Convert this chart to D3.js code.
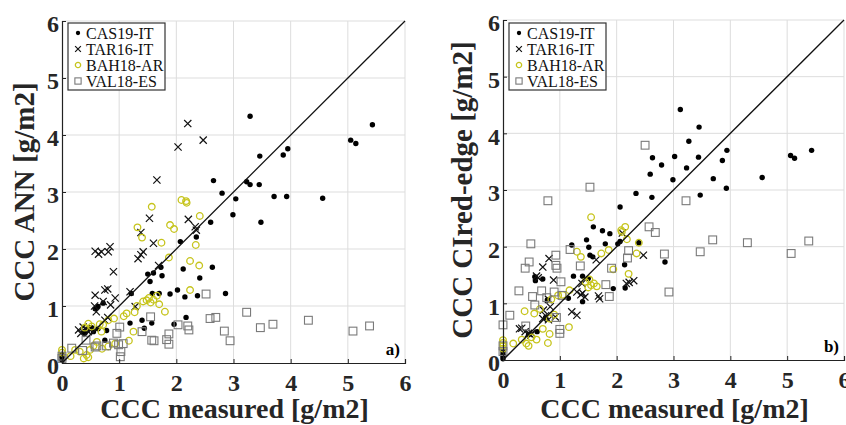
<!DOCTYPE html>
<html lang="en">
  <head>
    <meta charset="utf-8" />
    <title>CCC scatter plots</title>
    <script type="text/javascript" src="https://d3js.org/d3.v7.min.js"></script>
    <style>
      body { margin: 0; background: #fff; }
      text { font-family: "Liberation Serif", "Times New Roman", serif; }
    </style>
  </head>
  <body>
    <div id="graph"></div>

    <script type="text/javascript">
      /***************
       * data
       ***************/

      const ticks = [0, 1, 2, 3, 4, 5, 6];
      const seriesNames = ["CAS19-IT", "TAR16-IT", "BAH18-AR", "VAL18-ES"];
      const xLabel = "CCC measured [g/m2]";

      // panel a) : CCC ANN vs measured, [measured, estimated]
      const annCAS = [
        [3.29, 4.33], [5.43, 4.18], [5.05, 3.91], [5.14, 3.85], [3.95, 3.76], [3.87, 3.65],
        [3.46, 3.63], [2.65, 3.20], [3.23, 3.18], [3.29, 3.13], [3.45, 3.13], [2.80, 2.98],
        [3.04, 2.88], [3.71, 2.92], [3.93, 2.92], [4.56, 2.89], [2.99, 2.60], [3.48, 2.47],
        [2.60, 2.47], [2.35, 2.21], [2.07, 2.13], [2.12, 1.65], [2.63, 1.68], [2.41, 1.49],
        [1.50, 1.56], [1.60, 1.58], [1.75, 1.53], [1.73, 1.68], [1.54, 1.43], [1.70, 1.22],
        [1.58, 1.22], [1.89, 1.21], [2.02, 1.28], [2.15, 1.16], [2.37, 1.18], [2.86, 1.22],
        [1.21, 1.22], [1.40, 0.75], [1.57, 0.70], [1.44, 0.61], [1.19, 0.70], [2.17, 0.80],
        [1.96, 0.68], [0.78, 0.57], [0.75, 0.40], [0.58, 0.95], [0.63, 0.99], [0.72, 1.05],
        [0.45, 0.60], [0.52, 0.62], [0.38, 0.55], [0.55, 0.55], [0.63, 0.60], [0.40, 0.52],
        [0, 0.05], [0, 0.10], [0, 0.15]
      ];
      const annTAR = [
        [2.20, 4.20], [2.03, 3.79], [2.47, 3.91], [1.66, 3.21], [1.53, 2.54], [2.21, 2.52],
        [2.33, 2.39], [2.35, 2.33], [1.38, 2.29], [1.60, 2.10], [1.42, 1.95], [1.33, 1.83],
        [1.38, 1.90], [1.69, 1.71], [0.58, 1.96], [0.64, 1.91], [0.69, 1.95], [0.84, 2.04],
        [0.81, 1.95], [0.90, 1.60], [0.58, 1.19], [0.75, 1.28], [0.80, 1.30], [0.93, 1.14],
        [1.19, 1.25], [0.57, 1.00], [0.60, 0.90], [0.72, 1.08], [0.85, 1.02], [1.28, 0.99],
        [0.75, 0.75], [0.80, 0.80], [0.29, 0.58], [0.37, 0.63], [0.46, 0.55], [0.42, 0.60],
        [0.50, 0.58], [0.33, 0.52]
      ];
      const annBAH = [
        [1.57, 2.74], [2.09, 2.86], [2.18, 2.81], [2.17, 2.84], [2.41, 2.58], [2.34, 2.07],
        [2.24, 1.79], [2.40, 1.71], [1.32, 2.38], [1.40, 2.20], [1.89, 2.42], [1.96, 2.35],
        [1.74, 2.11], [1.87, 1.85], [2.24, 1.28], [1.31, 1.00], [1.42, 1.08], [1.48, 1.10],
        [1.55, 1.06], [1.60, 1.11], [1.66, 1.18], [1.52, 1.14], [1.70, 1.03], [1.80, 0.90],
        [1.27, 0.89], [1.13, 0.87], [1.08, 0.82], [0.91, 0.78], [0.81, 0.75], [0.72, 0.67],
        [0.66, 0.68], [0.46, 0.69], [0.40, 0.62], [0.52, 0.64], [0.69, 0.55], [1.25, 0.55],
        [1.17, 0.39], [0.93, 0.34], [0.81, 0.29], [0.61, 0.37], [0.49, 0.23], [0.43, 0.14],
        [0.46, 0.10], [0.38, 0.08], [0.31, 0.20], [0.23, 0.23], [0.15, 0.12], [0, 0.23],
        [0, 0.18], [0.55, 0.30], [0.70, 0.25]
      ];
      const annVAL = [
        [2.52, 1.21], [3.23, 0.89], [2.59, 0.78], [2.69, 0.80], [2.84, 0.56], [2.94, 0.39],
        [3.47, 0.62], [3.69, 0.68], [4.31, 0.75], [5.09, 0.56], [5.38, 0.65], [2.03, 0.67],
        [2.20, 0.65], [2.22, 0.58], [1.87, 0.51], [1.83, 0.41], [1.87, 0.33], [1.57, 0.40],
        [1.61, 0.39], [1.55, 0.81], [1.40, 0.55], [1.01, 0.63], [0.96, 0.52], [1.07, 0.34],
        [1.03, 0.20], [1.02, 0.11], [0.99, 0.32], [0.61, 0.30], [0.58, 0.28], [0.78, 0.30],
        [0.36, 0.22], [0.17, 0.26], [0.42, 0.40], [0.90, 0.35], [0, 0.08], [0, 0.12]
      ];

      // panel b) : CCC CIred-edge vs measured
      const ciCAS = [
        [3.12, 4.42], [3.45, 4.11], [3.27, 3.86], [5.43, 3.70], [5.06, 3.61], [5.13, 3.56],
        [3.94, 3.70], [3.86, 3.52], [2.63, 3.57], [3.02, 3.59], [3.44, 3.58], [2.79, 3.44],
        [3.23, 3.39], [2.59, 3.28], [2.99, 3.18], [3.70, 3.20], [4.56, 3.22], [3.93, 3.03],
        [2.34, 2.94], [2.62, 2.87], [3.47, 2.91], [2.06, 2.70], [1.59, 2.35], [1.75, 2.28],
        [1.88, 2.23], [1.47, 2.12], [1.21, 2.03], [1.51, 1.99], [2.06, 2.09], [2.02, 2.05],
        [1.80, 2.05], [2.39, 2.07], [1.53, 1.85], [1.58, 1.82], [2.14, 1.68], [2.85, 1.73],
        [1.40, 1.48], [1.24, 1.48], [1.50, 1.44], [0.56, 1.47], [0.70, 1.43], [0.57, 1.40],
        [1.94, 1.26], [2.15, 1.27], [1.15, 1.09], [1.40, 1.03], [0.78, 1.06], [0.75, 0.75],
        [0.45, 0.45], [0.60, 0.50], [0, 0.02], [0, 0.06], [0, 0.10], [0, 0.15]
      ];
      const ciTAR = [
        [2.10, 2.24], [2.47, 1.85], [1.64, 1.77], [0.81, 1.79], [0.70, 1.64], [0.89, 1.41],
        [0.59, 1.48], [0.62, 1.45], [1.39, 1.35], [1.40, 1.18], [1.30, 1.20], [1.37, 1.15],
        [1.44, 1.11], [1.68, 1.13], [1.70, 1.08], [2.17, 1.35], [2.22, 1.37], [2.30, 1.40],
        [0.80, 1.07], [0.83, 0.94], [0.71, 0.88], [0.92, 0.76], [0.80, 0.71], [0.70, 0.73],
        [1.21, 0.85], [1.30, 0.79], [0.29, 0.55], [0.33, 0.56], [0.39, 0.50], [0.51, 0.47],
        [0.49, 0.44], [0.45, 0.47], [0.75, 0.78]
      ];
      const ciBAH = [
        [1.55, 2.52], [2.15, 2.35], [2.09, 2.26], [2.18, 2.13], [2.08, 2.29], [1.30, 1.91],
        [1.37, 1.82], [1.73, 1.88], [1.86, 1.94], [2.35, 1.88], [2.39, 2.07], [1.94, 1.60],
        [2.21, 1.52], [1.45, 1.38], [1.52, 1.42], [1.60, 1.35], [1.65, 1.30], [1.55, 1.32],
        [1.50, 1.28], [0.97, 1.14], [0.85, 1.07], [1.17, 1.23], [1.05, 1.15], [1.16, 0.58],
        [0.82, 0.73], [0.65, 0.90], [0.38, 0.86], [0.55, 0.82], [0.90, 0.80], [0.18, 0.29],
        [0.33, 0.36], [0.41, 0.29], [0.45, 0.25], [0.59, 0.36], [0.79, 0.30], [0.82, 0.46],
        [0.50, 0.40], [0.70, 0.55], [0, 0.35], [0, 0.30], [0, 0.25], [0, 0.20]
      ];
      const ciVAL = [
        [2.50, 3.79], [1.53, 3.05], [0.79, 2.81], [3.22, 2.81], [2.57, 2.35], [2.68, 2.25],
        [3.69, 2.12], [4.30, 2.07], [5.38, 2.10], [5.07, 1.88], [3.47, 1.91], [2.84, 1.87],
        [2.92, 1.20], [0.49, 2.05], [0.93, 1.85], [1.18, 1.95], [0.46, 1.73], [0.39, 1.62],
        [0.93, 1.67], [0.95, 1.62], [1.36, 1.66], [1.91, 1.62], [2.21, 1.93], [2.19, 1.80],
        [1.81, 1.33], [1.87, 1.12], [0.28, 1.22], [0.68, 1.22], [0.52, 1.12], [0.56, 0.97],
        [1.02, 1.38], [1.04, 1.14], [0.90, 1.20], [0.12, 0.79], [0, 0.62], [1.00, 0.54],
        [1.00, 0.47], [0.40, 0.60], [0.94, 0.75], [0.77, 1.10], [0, 0.25], [0, 0.15]
      ];

      /***************************
       * create svg
       **************************/

      const width = 846;
      const height = 425;

      const svg = d3
        .select("div#graph")
        .append("svg")
        .attr("width", width)
        .attr("height", height);

      const panels = [
        {
          left: 62, right: 405, top: 21, bottom: 363,
          yLabel: "CCC ANN [g/m2]", yLabelX: 34, tag: "a)",
          series: [annCAS, annTAR, annBAH, annVAL]
        },
        {
          left: 503, right: 844, top: 20, bottom: 360,
          yLabel: "CCC CIred-edge [g/m2]", yLabelX: 472, tag: "b)",
          series: [ciCAS, ciTAR, ciBAH, ciVAL]
        }
      ];

      const yellow = "#c6c41c";
      const grey = "#7a7a7a";

      // one marker drawer per series (dot, cross, circle, square)
      function marker(sel, type, s) {
        if (type === 0) {
          sel.append("circle").attr("r", 2.7 * s).attr("fill", "#000");
        } else if (type === 1) {
          const h = 3.6 * s;
          sel.append("path")
            .attr("d", `M${-h},${-h}L${h},${h}M${-h},${h}L${h},${-h}`)
            .attr("stroke", "#111").attr("stroke-width", 1.2).attr("fill", "none");
        } else if (type === 2) {
          sel.append("circle").attr("r", 3.3 * s)
            .attr("fill", "none").attr("stroke", yellow).attr("stroke-width", 1.3);
        } else {
          const h = 3.9 * s;
          sel.append("rect").attr("x", -h).attr("y", -h)
            .attr("width", 2 * h).attr("height", 2 * h)
            .attr("fill", "none").attr("stroke", grey).attr("stroke-width", 1.1);
        }
      }

      panels.forEach(function (p) {
        const x = d3.scaleLinear().domain([0, 6]).range([p.left, p.right]);
        const y = d3.scaleLinear().domain([0, 6]).range([p.bottom, p.top]);
        const g = svg.append("g");

        // grid
        g.selectAll("line.gx").data(ticks.slice(1)).enter().append("line")
          .attr("x1", d => x(d)).attr("x2", d => x(d))
          .attr("y1", p.top).attr("y2", p.bottom)
          .attr("stroke", "#dddddd").attr("stroke-width", 1);
        g.selectAll("line.gy").data(ticks.slice(1)).enter().append("line")
          .attr("x1", p.left).attr("x2", p.right)
          .attr("y1", d => y(d)).attr("y2", d => y(d))
          .attr("stroke", "#dddddd").attr("stroke-width", 1);

        // points
        p.series.forEach(function (data, k) {
          g.selectAll(null).data(data).enter().append("g")
            .attr("transform", d => `translate(${x(d[0])},${y(d[1])})`)
            .each(function () { marker(d3.select(this), k, 1); });
        });

        // 1:1 line
        g.append("line")
          .attr("x1", x(0)).attr("y1", y(0)).attr("x2", x(6)).attr("y2", y(6))
          .attr("stroke", "#111").attr("stroke-width", 1.3);

        // axes
        const xAxis = d3.axisBottom(x).tickValues(ticks).tickFormat(d3.format("d"))
          .tickSize(-4).tickPadding(11);
        const yAxis = d3.axisLeft(y).tickValues(ticks).tickFormat(d3.format("d"))
          .tickSize(-4).tickPadding(3);

        const gx = g.append("g").attr("transform", `translate(0,${p.bottom})`).call(xAxis);
        const gy = g.append("g").attr("transform", `translate(${p.left},0)`).call(yAxis);
        [gx, gy].forEach(function (a) {
          a.select(".domain").attr("stroke", "#222").attr("stroke-width", 1.2);
          a.selectAll(".tick line").attr("stroke", "#222");
          a.selectAll("text")
            .attr("font-family", "Liberation Serif, serif")
            .attr("font-size", 24).attr("font-weight", "bold").attr("fill", "#262626");
        });
        gy.selectAll("text").attr("dy", "0.45em");

        // axis labels
        g.append("text")
          .attr("x", (p.left + p.right) / 2 + 1).attr("y", 418)
          .attr("text-anchor", "middle").attr("font-size", 28).attr("font-weight", "bold")
          .attr("fill", "#262626")
          .text(xLabel);
        g.append("text")
          .attr("transform", `translate(${p.yLabelX},${(p.top + p.bottom) / 2}) rotate(-90)`)
          .attr("text-anchor", "middle").attr("font-size", 29).attr("font-weight", "bold")
          .attr("fill", "#262626")
          .text(p.yLabel);

        // panel tag
        g.append("text")
          .attr("x", p.right - 5).attr("y", p.bottom - 8)
          .attr("text-anchor", "end").attr("font-size", 17).attr("font-weight", "bold")
          .text(p.tag);

        // legend
        const lg = g.append("g").attr("transform", `translate(${p.left + 6},23)`);
        lg.append("rect").attr("width", 97).attr("height", 67)
          .attr("fill", "#fff").attr("stroke", "#333").attr("stroke-width", 1.2);
        seriesNames.forEach(function (name, k) {
          const row = lg.append("g").attr("transform", `translate(0,${10 + k * 16})`);
          row.append("g").attr("transform", "translate(10,0)")
            .call(sel => marker(sel, k, 0.8));
          row.append("text").attr("x", 18).attr("y", 0).attr("dy", "0.35em")
            .attr("font-size", 16).attr("fill", "#111").text(name);
        });
      });
    </script>
  </body>
</html>
